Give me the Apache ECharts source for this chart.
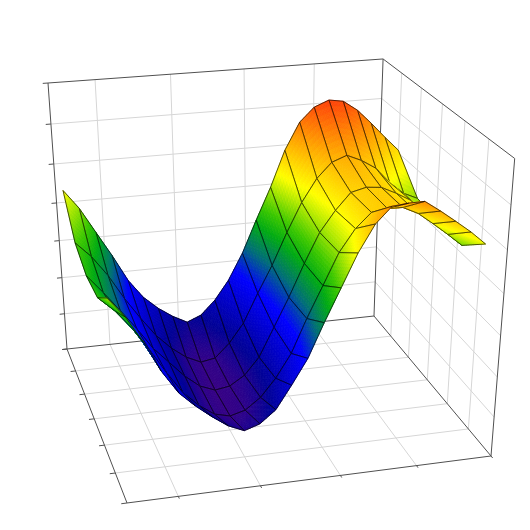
<!DOCTYPE html>
<html><head><meta charset="utf-8">
<style>html,body{margin:0;padding:0;background:#fff}#c{width:530px;height:530px}</style>
<script src="https://cdn.jsdelivr.net/npm/echarts@6/dist/echarts.min.js"></script>
</head><body><div id="c"></div>
<script>
// Surface data. Rows run along x, one row per y value.
const xValues = [0,.043,.087,.13,.174,.217,.261,.304,.348,.391,.435,.478,.522,.565,.609,.652,.696,.739,.783,.826,.87,.913,.957,1];
const yValues = [.165,.344,.523,.701,.86];
const zRow0 = [.682,.613,.520,.430,.330,.260,.211,.174,.145,.167,.220,.292,.391,.511,.628,.758,.854,.903,.924,.916,.880,.830,.775,.724];
const zRow1 = [.570,.516,.442,.353,.273,.202,.147,.106,.080,.090,.142,.213,.321,.420,.536,.639,.720,.772,.792,.770,.738,.683,.639,.616];
const zRow2 = [.535,.471,.401,.331,.252,.195,.136,.092,.070,.079,.114,.176,.282,.386,.503,.607,.679,.736,.749,.744,.719,.690,.639,.603];
const zRow3 = [.544,.494,.427,.348,.260,.182,.127,.088,.074,.089,.130,.194,.278,.397,.507,.615,.691,.740,.748,.747,.722,.683,.641,.598];
const zRow4 = [.619,.552,.461,.357,.275,.223,.178,.139,.114,.132,.176,.257,.345,.462,.574,.684,.773,.825,.830,.831,.795,.757,.717,.672];
const xTicks = [.135,.355,.574,.787,1];
const yTicks = [.167,.333,.5,.667,.833];
const zTicks = [0,.143,.286,.429,.571,.714,.857,1];
const zStops = [.06,.10,.16,.33,.42,.50,.56,.68,.80,.93];
const rampColors = [[60,0,130],[40,0,140],[0,0,150],[0,0,255],[0,110,120],[0,170,20],[60,200,0],[255,255,0],[255,165,0],[255,60,10]];

const zRows = [zRow0,zRow1,zRow2,zRow3,zRow4];
// Perspective camera of the 3D box, x, y, z each 0..1
function project(x,y,z){
  const w = 1 + .04281*x - .17035*y - .085*z;
  return [(323.01*x + 38.37*y - 23.08*z + 67)/w, (-19.47*x + 68.31*y - 273.05*z + 349)/w];
}
function ramp(z){
  if(z<=zStops[0]) return 'rgb('+rampColors[0]+')';
  for(let i=1;i<zStops.length;i++){
    if(z<=zStops[i]){
      const t=(z-zStops[i-1])/(zStops[i]-zStops[i-1]);
      const a=rampColors[i-1],b=rampColors[i];
      return 'rgb('+a.map((v,k)=>Math.round(v+(b[k]-v)*t)).join(',')+')';
    }
  }
  return 'rgb('+rampColors[rampColors.length-1]+')';
}
const SUB=10;
const grey='#d6d6d6', dark='#505050';
const segs=[];
function seg(a,b,color,width){segs.push({a,b,color,width});}
// floor and wall grid
xTicks.forEach(x=>{ if(x<1){ seg([x,0,0],[x,1,0],grey,1); seg([x,0,0],[x,0,1],grey,1);} });
yTicks.forEach(y=>{ seg([0,y,0],[1,y,0],grey,1); seg([1,y,0],[1,y,1],grey,1); });
zTicks.slice(1,-1).forEach(z=>{ seg([0,0,z],[1,0,z],grey,1); seg([1,0,z],[1,1,z],grey,1); });
// frame
[[[0,0,0],[1,0,0]],[[1,0,0],[1,1,0]],[[1,1,0],[0,1,0]],[[0,1,0],[0,0,0]],
 [[0,0,0],[0,0,1]],[[0,0,1],[1,0,1]],[[1,0,0],[1,0,1]],[[1,0,1],[1,1,1]],[[1,1,1],[1,1,0]]]
 .forEach(s=>seg(s[0],s[1],dark,1));
// ticks
zTicks.forEach(z=>seg([0,0,z],[-.015,0,z],dark,1));
yTicks.concat([0,1]).forEach(y=>seg([0,y,0],[-.015,y,0],dark,1));
xTicks.forEach(x=>seg([x,1,0],[x,1.012,0],dark,1));

const cells=[];
for(let r=0;r<yValues.length-1;r++) for(let c=xValues.length-2;c>=0;c--) cells.push([r,c]);

const chart=echarts.init(document.getElementById('c'),null,{renderer:'canvas'});
chart.setOption({
  animation:false,
  grid:{left:0,right:0,top:0,bottom:0},
  xAxis:{type:'value',min:0,max:530,show:false},
  yAxis:{type:'value',min:0,max:530,inverse:true,show:false},
  series:[
    {type:'custom',coordinateSystem:'cartesian2d',silent:true,clip:false,z:1,
     data:segs.map((s,i)=>[i,0]),
     renderItem(p,api){
       const s=segs[api.value(0)];
       const a=api.coord(project(...s.a)),b=api.coord(project(...s.b));
       return {type:'line',shape:{x1:a[0],y1:a[1],x2:b[0],y2:b[1]},style:{stroke:s.color,lineWidth:s.width}};
     }},
    {type:'custom',coordinateSystem:'cartesian2d',silent:true,clip:false,z:2,
     data:cells,
     renderItem(p,api){
       const r=api.value(0),c=api.value(1);
       const x0=xValues[c],x1=xValues[c+1],y0=yValues[r],y1=yValues[r+1];
       const z00=zRows[r][c],z10=zRows[r][c+1],z01=zRows[r+1][c],z11=zRows[r+1][c+1];
       const pt=(u,v)=>{
         const z=(1-u)*(1-v)*z00+u*(1-v)*z10+(1-u)*v*z01+u*v*z11;
         return {p:api.coord(project(x0+(x1-x0)*u,y0+(y1-y0)*v,z)),z};
       };
       const children=[];
       for(let i=0;i<SUB;i++)for(let j=0;j<SUB;j++){
         const u0=i/SUB,u1=(i+1)/SUB,v0=j/SUB,v1=(j+1)/SUB;
         const a=pt(u0,v0),b=pt(u1,v0),d=pt(u1,v1),e=pt(u0,v1);
         const col=ramp((a.z+b.z+d.z+e.z)/4);
         children.push({type:'polygon',shape:{points:[a.p,b.p,d.p,e.p]},style:{fill:col,stroke:col,lineWidth:.8}});
       }
       const o=[pt(0,0).p,pt(1,0).p,pt(1,1).p,pt(0,1).p];
       children.push({type:'polygon',shape:{points:o},style:{fill:'none',stroke:'rgba(0,0,0,.72)',lineWidth:.9}});
       return {type:'group',children};
     }}
  ]
});
</script></body></html>
